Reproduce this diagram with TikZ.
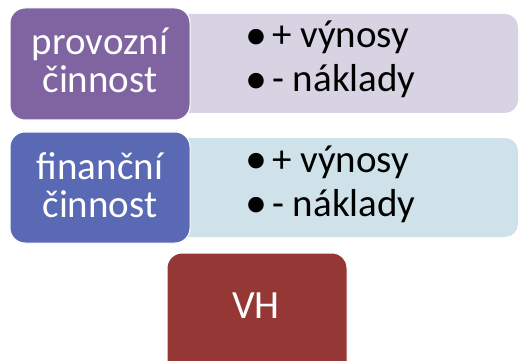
\documentclass[tikz,border=0pt]{standalone}
\usepackage{fontspec}
\setmainfont{Carlito}
\definecolor{cpurple}{HTML}{8064A2}
\definecolor{cblue}{HTML}{5A69B4}
\definecolor{cred}{HTML}{953735}
\definecolor{clav}{HTML}{D8D3E2}
\definecolor{cltblue}{HTML}{D0E2E9}
\newcommand{\bigbul}{\raisebox{-1.5pt}[0pt][0pt]{\fontsize{44}{44}\selectfont •}}
\begin{document}
\begin{tikzpicture}[x=1pt,y=-1pt,
  mainbox/.style={rounded corners=15pt,draw=white,line width=1pt},
  panel/.style={rounded corners=13pt},
  lefttext/.style={anchor=base,inner sep=0pt,text=white,font=\fontsize{39}{42}\selectfont},
  itemtext/.style={anchor=base west,inner sep=0pt,text=black,font=\fontsize{39}{42}\selectfont},
  vhtext/.style={anchor=base,inner sep=0pt,text=white,font=\fontsize{40}{42}\selectfont}]
\useasboundingbox (0,0) rectangle (520,361);
% panels
\fill[panel,clav] (170,14) rectangle (518,113);
\fill[panel,cltblue] (170,138) rectangle (518,237);
% main boxes
\filldraw[mainbox,fill=cpurple] (10,8) rectangle (190,120);
\filldraw[mainbox,fill=cblue] (10,132) rectangle (190,243);
\filldraw[mainbox,fill=cred] (167,253) rectangle (347,380);
% texts
\node[lefttext] (p1) at (100,55) {provozní};
\node[lefttext] (p2) at (100,93) {činnost};
\node[lefttext] (f1) at (100,179) {finanční};
\node[lefttext] (f2) at (100,217) {činnost};
\node[itemtext] (a1) at (245,48) {\bigbul\hspace{5pt}+ výnosy};
\node[itemtext] (a2) at (245,92) {\bigbul\hspace{5pt}- náklady};
\node[itemtext] (b1) at (245,172) {\bigbul\hspace{5pt}+ výnosy};
\node[itemtext] (b2) at (245,216) {\bigbul\hspace{5pt}- náklady};
\node[vhtext] (vh) at (256,318) {VH};
\end{tikzpicture}
\end{document}
